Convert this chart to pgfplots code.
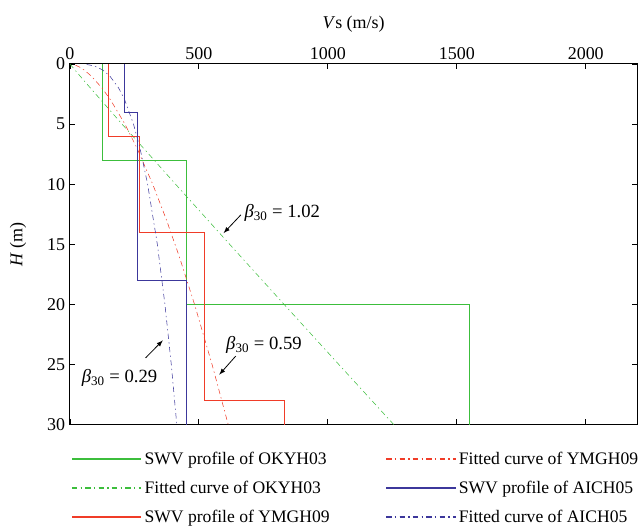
\documentclass[border=0pt]{standalone}
\usepackage{fontspec}
\setmainfont{Liberation Serif}
\usepackage{pgfplots}
\pgfplotsset{compat=1.18}
\definecolor{cg}{RGB}{60,190,60}
\definecolor{cr}{RGB}{240,60,40}
\definecolor{cb}{RGB}{60,55,155}
\begin{document}
\begin{tikzpicture}
\path[use as bounding box] (-52.5pt,-79.5pt) rectangle (426.5pt,318.75pt);
\begin{axis}[
  at={(0,0)}, anchor=south west,
  scale only axis, width=426pt, height=270.75pt,
  xmin=0, xmax=2200, ymin=0, ymax=30,
  y dir=reverse,
  xtick={0,500,1000,1500,2000},
  ytick={0,5,10,15,20,25,30},
  xticklabel pos=upper,
  tick align=inside,
  major tick length=4pt,
  tick style={black, line width=0.6pt},
  axis line style={line width=0.8pt},
  /pgf/number format/assume math mode=true,
  /pgf/number format/1000 sep={},
  ticklabel style={font=\fontsize{13.5}{16}\selectfont},
  xlabel={\textit{V}s (m/s)},
  ylabel={\textit{H} (m)},
  label style={font=\fontsize{13.5}{16}\selectfont},
  xlabel style={yshift=4pt},
  ylabel style={yshift=9pt},
  every plot/.append style={line width=0.9pt},
  legend columns=2,
  legend style={at={(axis description cs:-0.005,-0.06)}, anchor=north west, draw=none, fill=none,
     font=\fontsize{13.2}{16}\selectfont, row sep=7pt},
  legend cell align=left,
  legend image code/.code={\draw[#1] (0pt,0pt) -- (37.5pt,0pt); \path (0pt,0pt) -- (52pt,0pt);},
  clip=true,
]
\addplot[cg, forget plot] coordinates {(125,0)(125,8)(450,8)(450,20)(1550,20)(1550,30)};
\addplot[cg, forget plot, dash pattern=on 4pt off 2.5pt on 1pt off 2.5pt] coordinates {(0,0)(19.3,0.5)(39.1,1)(79.3,2)(201.9,5)(409.4,10)(619.1,15)(830.3,20)(1042.5,25)(1255.6,30)};
\addplot[cr, forget plot] coordinates {(150,0)(150,6)(270,6)(270,14)(520,14)(520,28)(830,28)(830,30)};
\addplot[cr, forget plot, dash pattern=on 4pt off 2.5pt on 1pt off 2.5pt] coordinates {(21.2,0.1)(36.4,0.25)(54.8,0.5)(82.5,1)(124.2,2)(157.7,3)(213.2,5)(260.0,7)(320.9,10)(374.7,13)(423.6,16)(483.1,20)(551.1,25)(613.7,30)};
\addplot[cb, forget plot] coordinates {(210,0)(210,4)(260,4)(260,18)(450,18)(450,30)};
\addplot[cb, forget plot, dash pattern=on 4pt off 2.5pt on 1pt off 2.5pt] coordinates {(64.8,0.05)(79.2,0.1)(103.4,0.25)(126.4,0.5)(154.5,1)(188.9,2)(212.5,3)(246.4,5)(271.6,7)(301.2,10)(338.9,15)(368.3,20)(393.0,25)(414.3,30)};
\addlegendimage{cg, line width=1pt}
\addlegendentry{SWV profile of OKYH03}
\addlegendimage{cr, line width=1pt, dash pattern=on 4pt off 2.5pt on 1pt off 2.5pt}
\addlegendentry{Fitted curve of YMGH09}
\addlegendimage{cg, line width=1pt, dash pattern=on 4pt off 2.5pt on 1pt off 2.5pt}
\addlegendentry{Fitted curve of OKYH03}
\addlegendimage{cb, line width=1pt}
\addlegendentry{SWV profile of AICH05}
\addlegendimage{cr, line width=1pt}
\addlegendentry{SWV profile of YMGH09\hspace*{40pt}}
\addlegendimage{cb, line width=1pt, dash pattern=on 4pt off 2.5pt on 1pt off 2.5pt}
\addlegendentry{Fitted curve of AICH05}
\draw[-latex, line width=0.6pt] (axis cs:663,12.55) -- (axis cs:596,14.07);
\node[anchor=west, inner sep=0pt, font=\fontsize{14}{16}\selectfont] at (axis cs:676,12.4) {{\itshape β}\textsubscript{30} = 1.02};
\draw[-latex, line width=0.6pt] (axis cs:643,24.3) -- (axis cs:579,25.85);
\node[anchor=west, inner sep=0pt, font=\fontsize{14}{16}\selectfont] at (axis cs:605,23.36) {{\itshape β}\textsubscript{30} = 0.59};
\draw[-latex, line width=0.6pt] (axis cs:293,24.46) -- (axis cs:360,23.0);
\node[anchor=west, inner sep=0pt, font=\fontsize{14}{16}\selectfont] at (axis cs:45,26.1) {{\itshape β}\textsubscript{30} = 0.29};
\end{axis}
\end{tikzpicture}
\end{document}
